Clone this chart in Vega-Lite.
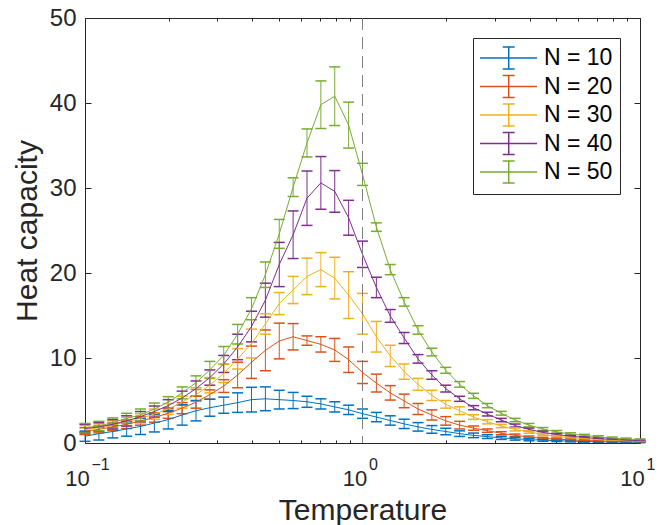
{
  "$schema": "https://vega.github.io/schema/vega-lite/v6.json",
  "width": 555,
  "height": 425,
  "autosize": "none",
  "padding": {"left": 85, "top": 18, "right": 18, "bottom": 82},
  "background": "white",
  "datasets": {
    "hc": [
      {"s":"N = 10","T":0.1,"C":0.8,"lo":0.2,"hi":1.4},
      {"s":"N = 10","T":0.1122,"C":1.1,"lo":0.35,"hi":1.85},
      {"s":"N = 10","T":0.1259,"C":1.35,"lo":0.6,"hi":2.1},
      {"s":"N = 10","T":0.1413,"C":1.65,"lo":0.8,"hi":2.5},
      {"s":"N = 10","T":0.1585,"C":1.95,"lo":1.0,"hi":2.9},
      {"s":"N = 10","T":0.1778,"C":2.35,"lo":1.3,"hi":3.4},
      {"s":"N = 10","T":0.1995,"C":2.75,"lo":1.65,"hi":3.85},
      {"s":"N = 10","T":0.2239,"C":3.3,"lo":2.1,"hi":4.5},
      {"s":"N = 10","T":0.2512,"C":3.8,"lo":2.6,"hi":5.0},
      {"s":"N = 10","T":0.2818,"C":4.15,"lo":3.15,"hi":5.15},
      {"s":"N = 10","T":0.3162,"C":4.45,"lo":3.5,"hi":5.4},
      {"s":"N = 10","T":0.3548,"C":4.75,"lo":3.6,"hi":5.9},
      {"s":"N = 10","T":0.3981,"C":5.1,"lo":3.65,"hi":6.55},
      {"s":"N = 10","T":0.4467,"C":5.2,"lo":3.8,"hi":6.6},
      {"s":"N = 10","T":0.5012,"C":5.1,"lo":4.0,"hi":6.2},
      {"s":"N = 10","T":0.5623,"C":5.0,"lo":4.05,"hi":5.95},
      {"s":"N = 10","T":0.631,"C":4.85,"lo":4.2,"hi":5.5},
      {"s":"N = 10","T":0.7079,"C":4.6,"lo":4.0,"hi":5.2},
      {"s":"N = 10","T":0.7943,"C":4.25,"lo":3.65,"hi":4.85},
      {"s":"N = 10","T":0.8913,"C":3.9,"lo":3.35,"hi":4.45},
      {"s":"N = 10","T":1,"C":3.45,"lo":2.9,"hi":4.0},
      {"s":"N = 10","T":1.122,"C":3.05,"lo":2.5,"hi":3.6},
      {"s":"N = 10","T":1.259,"C":2.65,"lo":2.1,"hi":3.2},
      {"s":"N = 10","T":1.413,"C":2.25,"lo":1.7,"hi":2.8},
      {"s":"N = 10","T":1.585,"C":1.9,"lo":1.4,"hi":2.4},
      {"s":"N = 10","T":1.778,"C":1.6,"lo":1.15,"hi":2.05},
      {"s":"N = 10","T":1.995,"C":1.35,"lo":0.97,"hi":1.73},
      {"s":"N = 10","T":2.239,"C":1.1,"lo":0.77,"hi":1.43},
      {"s":"N = 10","T":2.512,"C":0.9,"lo":0.63,"hi":1.17},
      {"s":"N = 10","T":2.818,"C":0.75,"lo":0.53,"hi":0.97},
      {"s":"N = 10","T":3.162,"C":0.6,"lo":0.42,"hi":0.78},
      {"s":"N = 10","T":3.548,"C":0.5,"lo":0.34,"hi":0.66},
      {"s":"N = 10","T":3.981,"C":0.4,"lo":0.26,"hi":0.54},
      {"s":"N = 10","T":4.467,"C":0.33,"lo":0.21,"hi":0.45},
      {"s":"N = 10","T":5.012,"C":0.27,"lo":0.17,"hi":0.37},
      {"s":"N = 10","T":5.623,"C":0.22,"lo":0.13,"hi":0.31},
      {"s":"N = 10","T":6.31,"C":0.18,"lo":0.1,"hi":0.26},
      {"s":"N = 10","T":7.079,"C":0.15,"lo":0.08,"hi":0.22},
      {"s":"N = 10","T":7.943,"C":0.12,"lo":0.06,"hi":0.18},
      {"s":"N = 10","T":8.913,"C":0.1,"lo":0.05,"hi":0.15},
      {"s":"N = 10","T":10,"C":0.08,"lo":0.04,"hi":0.12},

      {"s":"N = 20","T":0.1,"C":1.4,"lo":1.0,"hi":1.8},
      {"s":"N = 20","T":0.1122,"C":1.6,"lo":1.2,"hi":2.0},
      {"s":"N = 20","T":0.1259,"C":1.9,"lo":1.45,"hi":2.35},
      {"s":"N = 20","T":0.1413,"C":2.2,"lo":1.7,"hi":2.7},
      {"s":"N = 20","T":0.1585,"C":2.6,"lo":2.1,"hi":3.1},
      {"s":"N = 20","T":0.1778,"C":3.0,"lo":2.45,"hi":3.55},
      {"s":"N = 20","T":0.1995,"C":3.5,"lo":2.9,"hi":4.1},
      {"s":"N = 20","T":0.2239,"C":4.1,"lo":3.45,"hi":4.75},
      {"s":"N = 20","T":0.2512,"C":4.8,"lo":4.1,"hi":5.5},
      {"s":"N = 20","T":0.2818,"C":5.7,"lo":5.15,"hi":6.25},
      {"s":"N = 20","T":0.3162,"C":6.7,"lo":5.95,"hi":7.45},
      {"s":"N = 20","T":0.3548,"C":8.0,"lo":6.5,"hi":9.5},
      {"s":"N = 20","T":0.3981,"C":9.5,"lo":7.6,"hi":11.4},
      {"s":"N = 20","T":0.4467,"C":10.9,"lo":8.5,"hi":13.3},
      {"s":"N = 20","T":0.5012,"C":12.0,"lo":9.9,"hi":14.1},
      {"s":"N = 20","T":0.5623,"C":12.5,"lo":10.95,"hi":14.05},
      {"s":"N = 20","T":0.631,"C":12.05,"lo":11.5,"hi":12.6},
      {"s":"N = 20","T":0.7079,"C":11.6,"lo":10.7,"hi":12.5},
      {"s":"N = 20","T":0.7943,"C":10.95,"lo":9.6,"hi":12.3},
      {"s":"N = 20","T":0.8913,"C":9.8,"lo":8.3,"hi":11.3},
      {"s":"N = 20","T":1,"C":8.3,"lo":7.0,"hi":9.6},
      {"s":"N = 20","T":1.122,"C":7.05,"lo":6.0,"hi":8.1},
      {"s":"N = 20","T":1.259,"C":5.9,"lo":5.05,"hi":6.75},
      {"s":"N = 20","T":1.413,"C":4.95,"lo":4.15,"hi":5.75},
      {"s":"N = 20","T":1.585,"C":4.0,"lo":3.35,"hi":4.65},
      {"s":"N = 20","T":1.778,"C":3.3,"lo":2.7,"hi":3.9},
      {"s":"N = 20","T":1.995,"C":2.6,"lo":2.1,"hi":3.1},
      {"s":"N = 20","T":2.239,"C":2.1,"lo":1.65,"hi":2.55},
      {"s":"N = 20","T":2.512,"C":1.75,"lo":1.5,"hi":2.0},
      {"s":"N = 20","T":2.818,"C":1.45,"lo":1.25,"hi":1.65},
      {"s":"N = 20","T":3.162,"C":1.15,"lo":0.97,"hi":1.33},
      {"s":"N = 20","T":3.548,"C":0.9,"lo":0.75,"hi":1.05},
      {"s":"N = 20","T":3.981,"C":0.7,"lo":0.58,"hi":0.82},
      {"s":"N = 20","T":4.467,"C":0.55,"lo":0.45,"hi":0.65},
      {"s":"N = 20","T":5.012,"C":0.45,"lo":0.35,"hi":0.55},
      {"s":"N = 20","T":5.623,"C":0.37,"lo":0.29,"hi":0.45},
      {"s":"N = 20","T":6.31,"C":0.3,"lo":0.23,"hi":0.37},
      {"s":"N = 20","T":7.079,"C":0.24,"lo":0.18,"hi":0.3},
      {"s":"N = 20","T":7.943,"C":0.2,"lo":0.15,"hi":0.25},
      {"s":"N = 20","T":8.913,"C":0.17,"lo":0.12,"hi":0.22},
      {"s":"N = 20","T":10,"C":0.14,"lo":0.1,"hi":0.18},

      {"s":"N = 30","T":0.1,"C":1.6,"lo":1.15,"hi":2.05},
      {"s":"N = 30","T":0.1122,"C":1.8,"lo":1.35,"hi":2.25},
      {"s":"N = 30","T":0.1259,"C":2.1,"lo":1.6,"hi":2.6},
      {"s":"N = 30","T":0.1413,"C":2.5,"lo":2.0,"hi":3.0},
      {"s":"N = 30","T":0.1585,"C":2.9,"lo":2.35,"hi":3.45},
      {"s":"N = 30","T":0.1778,"C":3.4,"lo":2.8,"hi":4.0},
      {"s":"N = 30","T":0.1995,"C":4.0,"lo":3.35,"hi":4.65},
      {"s":"N = 30","T":0.2239,"C":4.8,"lo":4.1,"hi":5.5},
      {"s":"N = 30","T":0.2512,"C":5.7,"lo":4.9,"hi":6.5},
      {"s":"N = 30","T":0.2818,"C":6.8,"lo":5.9,"hi":7.7},
      {"s":"N = 30","T":0.3162,"C":8.2,"lo":7.1,"hi":9.3},
      {"s":"N = 30","T":0.3548,"C":9.9,"lo":8.7,"hi":11.1},
      {"s":"N = 30","T":0.3981,"C":11.7,"lo":10.0,"hi":13.4},
      {"s":"N = 30","T":0.4467,"C":14.0,"lo":12.8,"hi":15.2},
      {"s":"N = 30","T":0.5012,"C":16.4,"lo":15.1,"hi":17.7},
      {"s":"N = 30","T":0.5623,"C":18.0,"lo":16.4,"hi":19.6},
      {"s":"N = 30","T":0.631,"C":19.6,"lo":17.45,"hi":21.75},
      {"s":"N = 30","T":0.7079,"C":20.4,"lo":18.4,"hi":22.4},
      {"s":"N = 30","T":0.7943,"C":19.4,"lo":16.95,"hi":21.85},
      {"s":"N = 30","T":0.8913,"C":17.4,"lo":14.65,"hi":20.15},
      {"s":"N = 30","T":1,"C":15.2,"lo":12.8,"hi":17.6},
      {"s":"N = 30","T":1.122,"C":12.5,"lo":10.7,"hi":14.3},
      {"s":"N = 30","T":1.259,"C":10.25,"lo":9.0,"hi":11.5},
      {"s":"N = 30","T":1.413,"C":8.4,"lo":7.5,"hi":9.3},
      {"s":"N = 30","T":1.585,"C":6.9,"lo":6.2,"hi":7.6},
      {"s":"N = 30","T":1.778,"C":5.6,"lo":5.0,"hi":6.2},
      {"s":"N = 30","T":1.995,"C":4.55,"lo":4.1,"hi":5.0},
      {"s":"N = 30","T":2.239,"C":3.8,"lo":3.35,"hi":4.25},
      {"s":"N = 30","T":2.512,"C":3.05,"lo":2.78,"hi":3.32},
      {"s":"N = 30","T":2.818,"C":2.5,"lo":2.25,"hi":2.75},
      {"s":"N = 30","T":3.162,"C":2.0,"lo":1.8,"hi":2.2},
      {"s":"N = 30","T":3.548,"C":1.6,"lo":1.42,"hi":1.78},
      {"s":"N = 30","T":3.981,"C":1.3,"lo":1.15,"hi":1.45},
      {"s":"N = 30","T":4.467,"C":1.0,"lo":0.86,"hi":1.14},
      {"s":"N = 30","T":5.012,"C":0.78,"lo":0.66,"hi":0.9},
      {"s":"N = 30","T":5.623,"C":0.62,"lo":0.52,"hi":0.72},
      {"s":"N = 30","T":6.31,"C":0.5,"lo":0.41,"hi":0.59},
      {"s":"N = 30","T":7.079,"C":0.4,"lo":0.32,"hi":0.48},
      {"s":"N = 30","T":7.943,"C":0.32,"lo":0.25,"hi":0.39},
      {"s":"N = 30","T":8.913,"C":0.27,"lo":0.21,"hi":0.33},
      {"s":"N = 30","T":10,"C":0.22,"lo":0.17,"hi":0.27},

      {"s":"N = 40","T":0.1,"C":1.7,"lo":1.2,"hi":2.2},
      {"s":"N = 40","T":0.1122,"C":1.9,"lo":1.4,"hi":2.4},
      {"s":"N = 40","T":0.1259,"C":2.2,"lo":1.65,"hi":2.75},
      {"s":"N = 40","T":0.1413,"C":2.6,"lo":2.0,"hi":3.2},
      {"s":"N = 40","T":0.1585,"C":3.1,"lo":2.5,"hi":3.7},
      {"s":"N = 40","T":0.1778,"C":3.7,"lo":3.05,"hi":4.35},
      {"s":"N = 40","T":0.1995,"C":4.4,"lo":3.7,"hi":5.1},
      {"s":"N = 40","T":0.2239,"C":5.3,"lo":4.5,"hi":6.1},
      {"s":"N = 40","T":0.2512,"C":6.4,"lo":5.5,"hi":7.3},
      {"s":"N = 40","T":0.2818,"C":7.7,"lo":6.8,"hi":8.6},
      {"s":"N = 40","T":0.3162,"C":9.3,"lo":8.3,"hi":10.3},
      {"s":"N = 40","T":0.3548,"C":11.3,"lo":9.8,"hi":12.8},
      {"s":"N = 40","T":0.3981,"C":13.7,"lo":11.9,"hi":15.5},
      {"s":"N = 40","T":0.4467,"C":16.8,"lo":14.8,"hi":18.8},
      {"s":"N = 40","T":0.5012,"C":21.0,"lo":18.4,"hi":23.6},
      {"s":"N = 40","T":0.5623,"C":24.5,"lo":21.7,"hi":27.3},
      {"s":"N = 40","T":0.631,"C":28.8,"lo":25.6,"hi":32.0},
      {"s":"N = 40","T":0.7079,"C":30.6,"lo":27.5,"hi":33.7},
      {"s":"N = 40","T":0.7943,"C":29.6,"lo":27.15,"hi":32.05},
      {"s":"N = 40","T":0.8913,"C":26.5,"lo":24.45,"hi":28.55},
      {"s":"N = 40","T":1,"C":22.2,"lo":20.65,"hi":23.75},
      {"s":"N = 40","T":1.122,"C":18.3,"lo":17.1,"hi":19.5},
      {"s":"N = 40","T":1.259,"C":14.95,"lo":14.2,"hi":15.7},
      {"s":"N = 40","T":1.413,"C":12.35,"lo":11.7,"hi":13.0},
      {"s":"N = 40","T":1.585,"C":9.9,"lo":9.4,"hi":10.4},
      {"s":"N = 40","T":1.778,"C":8.0,"lo":7.5,"hi":8.5},
      {"s":"N = 40","T":1.995,"C":6.4,"lo":6.0,"hi":6.8},
      {"s":"N = 40","T":2.239,"C":5.2,"lo":4.9,"hi":5.5},
      {"s":"N = 40","T":2.512,"C":4.15,"lo":3.9,"hi":4.4},
      {"s":"N = 40","T":2.818,"C":3.4,"lo":3.18,"hi":3.62},
      {"s":"N = 40","T":3.162,"C":2.7,"lo":2.5,"hi":2.9},
      {"s":"N = 40","T":3.548,"C":2.05,"lo":1.87,"hi":2.23},
      {"s":"N = 40","T":3.981,"C":1.6,"lo":1.45,"hi":1.75},
      {"s":"N = 40","T":4.467,"C":1.25,"lo":1.11,"hi":1.39},
      {"s":"N = 40","T":5.012,"C":1.0,"lo":0.87,"hi":1.13},
      {"s":"N = 40","T":5.623,"C":0.8,"lo":0.68,"hi":0.92},
      {"s":"N = 40","T":6.31,"C":0.65,"lo":0.54,"hi":0.76},
      {"s":"N = 40","T":7.079,"C":0.52,"lo":0.42,"hi":0.62},
      {"s":"N = 40","T":7.943,"C":0.42,"lo":0.33,"hi":0.51},
      {"s":"N = 40","T":8.913,"C":0.34,"lo":0.26,"hi":0.42},
      {"s":"N = 40","T":10,"C":0.28,"lo":0.21,"hi":0.35},

      {"s":"N = 50","T":0.1,"C":1.8,"lo":1.3,"hi":2.3},
      {"s":"N = 50","T":0.1122,"C":2.0,"lo":1.45,"hi":2.55},
      {"s":"N = 50","T":0.1259,"C":2.4,"lo":1.85,"hi":2.95},
      {"s":"N = 50","T":0.1413,"C":2.9,"lo":2.3,"hi":3.5},
      {"s":"N = 50","T":0.1585,"C":3.3,"lo":2.6,"hi":4.0},
      {"s":"N = 50","T":0.1778,"C":4.0,"lo":3.3,"hi":4.7},
      {"s":"N = 50","T":0.1995,"C":4.8,"lo":4.15,"hi":5.45},
      {"s":"N = 50","T":0.2239,"C":5.9,"lo":5.2,"hi":6.6},
      {"s":"N = 50","T":0.2512,"C":7.1,"lo":6.3,"hi":7.9},
      {"s":"N = 50","T":0.2818,"C":8.6,"lo":7.6,"hi":9.6},
      {"s":"N = 50","T":0.3162,"C":10.3,"lo":9.25,"hi":11.35},
      {"s":"N = 50","T":0.3548,"C":12.8,"lo":11.65,"hi":13.95},
      {"s":"N = 50","T":0.3981,"C":15.8,"lo":14.5,"hi":17.1},
      {"s":"N = 50","T":0.4467,"C":19.8,"lo":18.3,"hi":21.3},
      {"s":"N = 50","T":0.5012,"C":24.6,"lo":22.9,"hi":26.3},
      {"s":"N = 50","T":0.5623,"C":30.1,"lo":29.0,"hi":31.2},
      {"s":"N = 50","T":0.631,"C":35.3,"lo":33.65,"hi":36.95},
      {"s":"N = 50","T":0.7079,"C":39.8,"lo":37.0,"hi":42.6},
      {"s":"N = 50","T":0.7943,"C":40.8,"lo":37.35,"hi":44.25},
      {"s":"N = 50","T":0.8913,"C":37.4,"lo":34.7,"hi":40.1},
      {"s":"N = 50","T":1,"C":31.6,"lo":30.3,"hi":32.9},
      {"s":"N = 50","T":1.122,"C":25.4,"lo":24.9,"hi":25.9},
      {"s":"N = 50","T":1.259,"C":20.4,"lo":19.8,"hi":21.0},
      {"s":"N = 50","T":1.413,"C":16.6,"lo":16.1,"hi":17.1},
      {"s":"N = 50","T":1.585,"C":13.3,"lo":12.8,"hi":13.8},
      {"s":"N = 50","T":1.778,"C":10.7,"lo":10.25,"hi":11.15},
      {"s":"N = 50","T":1.995,"C":8.55,"lo":8.2,"hi":8.9},
      {"s":"N = 50","T":2.239,"C":6.9,"lo":6.57,"hi":7.23},
      {"s":"N = 50","T":2.512,"C":5.55,"lo":5.25,"hi":5.85},
      {"s":"N = 50","T":2.818,"C":4.4,"lo":4.15,"hi":4.65},
      {"s":"N = 50","T":3.162,"C":3.5,"lo":3.28,"hi":3.72},
      {"s":"N = 50","T":3.548,"C":2.7,"lo":2.5,"hi":2.9},
      {"s":"N = 50","T":3.981,"C":2.1,"lo":1.9,"hi":2.3},
      {"s":"N = 50","T":4.467,"C":1.65,"lo":1.48,"hi":1.82},
      {"s":"N = 50","T":5.012,"C":1.3,"lo":1.13,"hi":1.47},
      {"s":"N = 50","T":5.623,"C":1.05,"lo":0.9,"hi":1.2},
      {"s":"N = 50","T":6.31,"C":0.88,"lo":0.74,"hi":1.02},
      {"s":"N = 50","T":7.079,"C":0.72,"lo":0.59,"hi":0.85},
      {"s":"N = 50","T":7.943,"C":0.58,"lo":0.46,"hi":0.7},
      {"s":"N = 50","T":8.913,"C":0.47,"lo":0.36,"hi":0.58},
      {"s":"N = 50","T":10,"C":0.38,"lo":0.28,"hi":0.48}
    ]
  },
  "layer": [
    {
      "data": {"name": "hc"},
      "mark": {"type": "rule", "strokeWidth": 1},
      "encoding": {
        "x": {"field": "T", "type": "quantitative",
              "scale": {"type": "log", "domain": [0.1, 10], "nice": false},
              "axis": {"orient": "bottom", "values": [0.1, 1, 10],
                       "labelExpr": "'10'", "labelFlush": false, "labelOffset": -8,
                       "tickSize": -6, "labelPadding": 31, "labelFontSize": 22,
                       "title": "Temperature", "titleFontSize": 30, "titlePadding": 6}},
        "y": {"field": "lo", "type": "quantitative",
              "scale": {"domain": [0, 50], "nice": false, "zero": false},
              "axis": {"orient": "left", "values": [0, 10, 20, 30, 40, 50],
                       "tickSize": -6, "labelPadding": 15, "labelFontSize": 24,
                       "title": "Heat capacity", "titleFontSize": 30, "titlePadding": 7}},
        "y2": {"field": "hi"},
        "color": {"field": "s", "type": "nominal", "title": null,
                  "scale": {"domain": ["N = 10", "N = 20", "N = 30", "N = 40", "N = 50"],
                            "range": ["#0072BD", "#D95319", "#EDB120", "#7E2F8E", "#77AC30"]}}
      }
    },
    {
      "data": {"name": "hc"},
      "mark": {"type": "rule", "strokeWidth": 1.5, "xOffset": -5.5, "x2Offset": 5.5},
      "encoding": {
        "x": {"field": "T", "type": "quantitative",
              "scale": {"type": "log", "domain": [0.1, 10], "nice": false},
              "axis": {"orient": "top", "values": [0.1, 1, 10], "labels": false, "tickSize": -6, "title": null}},
        "x2": {"field": "T"},
        "y": {"field": "lo", "type": "quantitative",
              "scale": {"domain": [0, 50], "nice": false, "zero": false},
              "axis": {"orient": "right", "values": [0, 10, 20, 30, 40, 50], "labels": false, "tickSize": -6, "title": null}},
        "color": {"field": "s", "type": "nominal", "title": null}
      }
    },
    {
      "data": {"name": "hc"},
      "mark": {"type": "rule", "strokeWidth": 1.5, "xOffset": -5.5, "x2Offset": 5.5},
      "encoding": {
        "x": {"field": "T", "type": "quantitative",
              "scale": {"type": "log", "domain": [0.1, 10], "nice": false},
              "axis": {"orient": "bottom", "values": [0.2, 0.3, 0.4, 0.5, 0.6, 0.7, 0.8, 0.9, 2, 3, 4, 5, 6, 7, 8, 9], "labels": false, "tickSize": -3, "title": null}},
        "x2": {"field": "T"},
        "y": {"field": "hi", "type": "quantitative", "axis": null},
        "color": {"field": "s", "type": "nominal", "title": null}
      }
    },
    {
      "data": {"name": "hc"},
      "mark": {"type": "line", "strokeWidth": 1},
      "encoding": {
        "x": {"field": "T", "type": "quantitative",
              "scale": {"type": "log", "domain": [0.1, 10], "nice": false},
              "axis": {"orient": "top", "values": [0.2, 0.3, 0.4, 0.5, 0.6, 0.7, 0.8, 0.9, 2, 3, 4, 5, 6, 7, 8, 9], "labels": false, "tickSize": -3, "title": null}},
        "y": {"field": "C", "type": "quantitative", "axis": null},
        "color": {"field": "s", "type": "nominal", "title": null}
      }
    },
    {
      "data": {"values": [{"T": 1}]},
      "mark": {"type": "rule", "strokeDash": [12, 7], "color": "#808080", "strokeWidth": 1},
      "encoding": {
        "x": {"field": "T", "type": "quantitative",
              "scale": {"type": "log", "domain": [0.1, 10], "nice": false},
              "axis": {"orient": "bottom", "values": [0.1, 1, 10],
                       "labelExpr": "datum.value < 0.5 ? '−1' : datum.value < 5 ? '0' : '1'",
                       "labelFlush": false, "labelAlign": "left", "labelOffset": 6,
                       "ticks": false, "tickSize": 0, "labelPadding": 13, "labelFontSize": 16,
                       "title": null}}
      }
    }
  ],
  "resolve": {"axis": {"x": "independent", "y": "independent"}},
  "config": {
    "font": "Liberation Sans",
    "view": {"stroke": "#262626", "strokeWidth": 1},
    "axis": {"domain": false, "grid": false, "tickColor": "#262626", "tickWidth": 1,
             "labelColor": "#262626", "titleColor": "#262626",
             "labelFont": "Liberation Sans", "titleFont": "Liberation Sans", "titleFontWeight": "normal"},
    "legend": {
      "orient": "top-right", "offset": 20,
      "strokeColor": "#262626", "fillColor": "white", "cornerRadius": 0,
      "padding": 7, "rowPadding": -1.5,
      "labelFont": "Liberation Sans", "labelFontSize": 23, "labelColor": "#000000",
      "labelOffset": 38,
      "symbolType": "M-1.08,0H3.67M1.31,-0.92V0.92M0.81,-0.92H1.81M0.81,0.92H1.81",
      "symbolSize": 576, "symbolStrokeWidth": 1.5, "symbolFillColor": "transparent"
    }
  }
}
